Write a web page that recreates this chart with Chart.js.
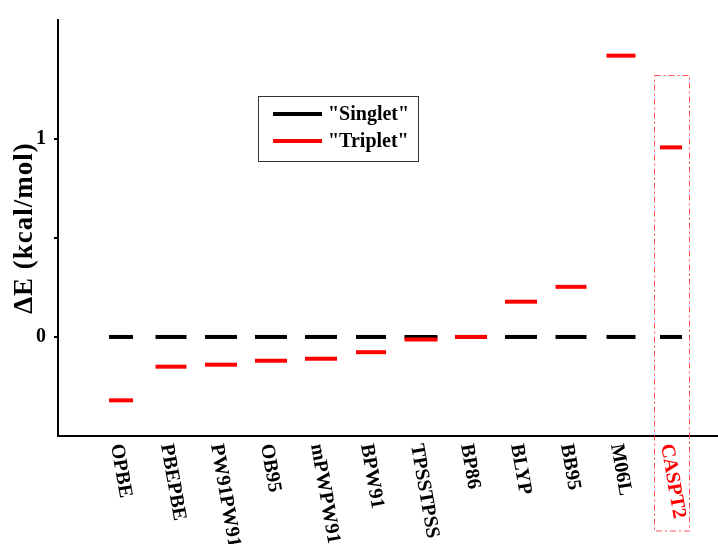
<!DOCTYPE html>
<html lang="en">
<head>
<meta charset="UTF-8">
<title>Singlet / Triplet energies</title>
<script src="https://cdn.jsdelivr.net/npm/chart.js"></script>
<style>
  body { margin: 0; background: #fff; }
  #wrap { width: 718px; height: 544px; }
</style>
</head>
<body>
<div id="wrap"><canvas id="chart"></canvas></div>
<script>
// values
const methods = ['OPBE', 'PBEPBE', 'PW91PW91', 'OB95', 'mPWPW91', 'BPW91', 'TPSSTPSS', 'BP86', 'BLYP', 'BB95', 'M06L', 'CASPT2'];
const singlet = [0, 0, 0, 0, 0, 0, 0, 0, 0, 0, 0, 0];
const triplet = [-0.32, -0.15, -0.14, -0.12, -0.11, -0.077, -0.013, 0, 0.178, 0.253, 1.42, 0.957];
const yLabelled = [0, 1];
const seriesNames = ['"Singlet"', '"Triplet"'];

// dash lengths in px (style only)
const dashLen = [24, 31, 32, 32, 32, 30, 33, 32, 32, 31, 29, 22];

const serif = '"Liberation Serif", "Times New Roman", serif';

function toPoints(vals) {
    return vals.map((v, i) => ({ x: i + 1, y: v }));
}

const extras = {
    id: 'extras',
    afterDraw(chart) {
        const ctx = chart.ctx;
        const xs = chart.scales.x;
        const ys = chart.scales.y;
        const area = chart.chartArea;

        // x labels, rotated clockwise
        ctx.save();
        ctx.font = 'bold 20px ' + serif;
        methods.forEach((m, i) => {
            const px = xs.getPixelForValue(i + 1);
            ctx.save();
            ctx.translate(px - 5, xs.top + 8);
            ctx.rotate(80 * Math.PI / 180);
            ctx.textAlign = 'left';
            ctx.textBaseline = 'middle';
            ctx.fillStyle = m === 'CASPT2' ? '#ff0000' : '#000';
            ctx.fillText(m, 0, 0);
            ctx.restore();
        });
        ctx.restore();

        // y title
        ctx.save();
        ctx.translate(25, (area.top + area.bottom) / 2);
        ctx.rotate(-Math.PI / 2);
        ctx.font = 'bold 27px ' + serif;
        ctx.letterSpacing = '1px';
        ctx.fillStyle = '#000';
        ctx.textAlign = 'center';
        ctx.textBaseline = 'middle';
        ctx.fillText('ΔE (kcal/mol)', 0, 0);
        ctx.restore();

        // legend box
        const lx = area.left + 200, ly = area.top + 76;
        ctx.save();
        ctx.strokeStyle = '#333';
        ctx.lineWidth = 1;
        ctx.strokeRect(lx + 0.5, ly + 0.5, 160, 65);
        chart.data.datasets.forEach((ds, k) => {
            const yy = ly + 18 + k * 27;
            ctx.strokeStyle = ds.borderColor;
            ctx.lineWidth = 4;
            ctx.beginPath();
            ctx.moveTo(lx + 15, yy);
            ctx.lineTo(lx + 64, yy);
            ctx.stroke();
            ctx.fillStyle = '#000';
            ctx.font = 'bold 20px ' + serif;
            ctx.textAlign = 'left';
            ctx.textBaseline = 'middle';
            ctx.fillText(ds.label, lx + 70, yy + 1);
        });
        ctx.restore();

        // dash-dot box around CASPT2
        const cx = xs.getPixelForValue(12);
        const top = ys.getPixelForValue(1.32);
        const bottom = xs.top + 95;
        ctx.save();
        ctx.strokeStyle = 'rgba(255, 40, 40, 0.8)';
        ctx.lineWidth = 1;
        ctx.setLineDash([6, 3, 2, 3]);
        ctx.strokeRect(Math.round(cx - 17) + 0.5, Math.round(top) + 0.5, 35, bottom - top);
        ctx.restore();
    }
};

const ctx = document.getElementById('chart').getContext('2d');
new Chart(ctx, {
    type: 'scatter',
    data: {
        datasets: [
            {
                label: seriesNames[0],
                data: toPoints(singlet),
                borderColor: '#000',
                backgroundColor: '#000',
                pointStyle: 'line',
                pointRadius: dashLen.map(d => d / 2),
                pointBorderWidth: 4,
                order: 1
            },
            {
                label: seriesNames[1],
                data: toPoints(triplet),
                borderColor: '#ff0000',
                backgroundColor: '#ff0000',
                pointStyle: 'line',
                pointRadius: dashLen.map(d => d / 2),
                pointBorderWidth: 4,
                order: 0
            }
        ]
    },
    options: {
        responsive: true,
        maintainAspectRatio: false,
        animation: false,
        events: [],
        layout: { autoPadding: false, padding: { top: 16, right: 0, left: 0, bottom: 0 } },
        plugins: {
            legend: { display: false },
            tooltip: { enabled: false }
        },
        scales: {
            x: {
                type: 'linear',
                min: -0.26,
                max: 12.94,
                grid: { display: false },
                ticks: { display: false },
                border: { display: true, color: '#000', width: 2 },
                afterFit: s => { s.height = 108; }
            },
            y: {
                min: -0.5,
                max: 1.6,
                ticks: {
                    stepSize: 0.5,
                    color: '#000',
                    padding: 8,
                    font: { family: serif, size: 20, weight: 'bold' },
                    callback: v => yLabelled.includes(v) ? String(v) : ''
                },
                grid: {
                    drawOnChartArea: false,
                    drawTicks: true,
                    tickLength: 4,
                    lineWidth: 2,
                    color: c => (c.tick && (c.tick.value === -0.5 || c.tick.value === 1.6)) ? 'rgba(0,0,0,0)' : '#000'
                },
                border: { display: true, color: '#000', width: 2 },
                afterFit: s => { s.width = 58; }
            }
        }
    },
    plugins: [extras]
});
</script>
</body>
</html>
